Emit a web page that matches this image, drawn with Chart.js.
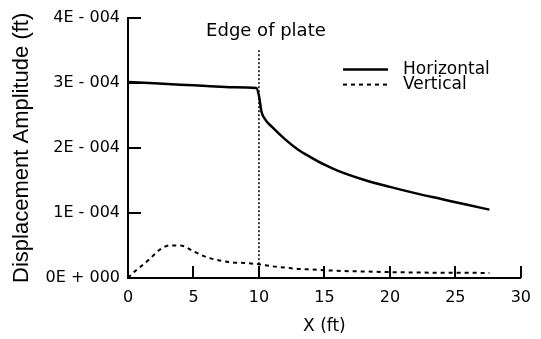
<!DOCTYPE html>
<html>
<head>
<meta charset="utf-8">
<script src="https://cdn.jsdelivr.net/npm/chart.js@4/dist/chart.umd.min.js"></script>
<style>
  html, body { margin: 0; padding: 0; background: #fff; }
  #wrap { width: 541px; height: 339px; }
</style>
</head>
<body>
<div id="wrap"><canvas id="c" width="541" height="339"></canvas></div>
<script>
// Horizontal displacement amplitude (ft) along X (ft)
const horizX = [0, 2, 4, 6, 8, 9.8, 10.0, 10.2, 10.5, 11, 12, 13, 14, 15, 16, 18, 20, 22, 24, 26, 27.6];
const horizY = [3.01e-4, 2.99e-4, 2.97e-4, 2.95e-4, 2.93e-4, 2.92e-4, 2.80e-4, 2.55e-4, 2.43e-4, 2.32e-4,
                2.13e-4, 1.97e-4, 1.85e-4, 1.74e-4, 1.65e-4, 1.51e-4, 1.40e-4, 1.30e-4, 1.21e-4, 1.12e-4, 1.05e-4];

// Vertical displacement amplitude (ft) along X (ft)
const vertX = [0, 0.5, 1, 1.7, 2.4, 3.2, 4, 5, 6, 7, 8, 9, 10, 11, 12, 13, 14, 15, 16, 18, 20, 22, 24, 26, 27.6];
const vertY = [0.0, 0.10e-4, 0.18e-4, 0.30e-4, 0.43e-4, 0.50e-4, 0.50e-4, 0.41e-4, 0.32e-4, 0.27e-4, 0.24e-4,
               0.23e-4, 0.21e-4, 0.18e-4, 0.16e-4, 0.14e-4, 0.13e-4, 0.12e-4, 0.11e-4, 0.10e-4, 0.09e-4,
               0.085e-4, 0.08e-4, 0.08e-4, 0.075e-4];

const xTickLabels = ['0', '5', '10', '15', '20', '25', '30'];
const yTickLabels = ['0E + 000', '1E - 004', '2E - 004', '3E - 004', '4E - 004'];

const seriesNames = ['Horizontal', 'Vertical'];
const edgeX = 10;
const edgeLabel = 'Edge of plate';

const FONT = "'DejaVu Sans', sans-serif";
const TITLE_FONT = "'Liberation Sans', Arial, sans-serif";

const toPoints = (xs, ys) => xs.map((x, i) => ({ x: x, y: ys[i] }));

// Short tick marks pointing into the plot
const inwardTicks = {
  id: 'inwardTicks',
  afterDraw(chart) {
    const { ctx, scales: { x, y } } = chart;
    ctx.save();
    ctx.strokeStyle = '#000';
    ctx.lineWidth = 2;
    ctx.beginPath();
    x.ticks.forEach(t => {
      if (t.value === 0) return;
      const px = Math.round(x.getPixelForValue(t.value));
      ctx.moveTo(px, y.bottom);
      ctx.lineTo(px, y.bottom - 12);
    });
    y.ticks.forEach(t => {
      if (t.value === 0) return;
      const py = Math.round(y.getPixelForValue(t.value));
      ctx.moveTo(x.left, py);
      ctx.lineTo(x.left + 13, py);
    });
    ctx.stroke();
    ctx.restore();
  }
};

// Dotted marker at the plate edge with its caption
const edgeMarker = {
  id: 'edgeMarker',
  afterDatasetsDraw(chart) {
    const { ctx, scales: { x, y } } = chart;
    const px = x.getPixelForValue(edgeX);
    ctx.save();
    ctx.strokeStyle = '#000';
    ctx.lineWidth = 1.5;
    ctx.setLineDash([2, 2]);
    ctx.beginPath();
    ctx.moveTo(px, y.getPixelForValue(3.5e-4));
    ctx.lineTo(px, y.bottom);
    ctx.stroke();
    ctx.setLineDash([]);
    ctx.fillStyle = '#000';
    ctx.font = '18px ' + FONT;
    ctx.textAlign = 'center';
    ctx.textBaseline = 'middle';
    ctx.fillText(edgeLabel, px + 7, chart.chartArea.top + 14);
    ctx.restore();
  }
};

// Legend drawn inside the plot area
const innerLegend = {
  id: 'innerLegend',
  afterDraw(chart) {
    const { ctx, chartArea } = chart;
    const x0 = chartArea.left + 215;
    const rows = [chartArea.top + 52, chartArea.top + 67];
    ctx.save();
    chart.data.datasets.forEach((ds, i) => {
      const yy = rows[i];
      ctx.strokeStyle = ds.borderColor;
      ctx.lineWidth = ds.borderWidth;
      ctx.setLineDash(ds.borderDash || []);
      ctx.beginPath();
      ctx.moveTo(x0, yy);
      ctx.lineTo(x0 + 45, yy);
      ctx.stroke();
      ctx.setLineDash([]);
      ctx.fillStyle = '#000';
      ctx.font = '17px ' + FONT;
      ctx.textAlign = 'left';
      ctx.textBaseline = 'middle';
      ctx.fillText(ds.label, x0 + 60, yy);
    });
    ctx.restore();
  }
};

new Chart(document.getElementById('c'), {
  type: 'line',
  data: {
    datasets: [
      {
        label: seriesNames[0],
        data: toPoints(horizX, horizY),
        borderColor: '#000',
        borderWidth: 2.5,
        pointRadius: 0,
        cubicInterpolationMode: 'monotone',
        fill: false
      },
      {
        label: seriesNames[1],
        data: toPoints(vertX, vertY),
        borderColor: '#000',
        borderWidth: 2,
        borderDash: [4, 4],
        pointRadius: 0,
        cubicInterpolationMode: 'monotone',
        fill: false
      }
    ]
  },
  options: {
    responsive: false,
    animation: false,
    devicePixelRatio: 1,
    layout: { padding: { left: 0, right: 20, top: 14, bottom: 0 } },
    plugins: { legend: { display: false }, tooltip: { enabled: false } },
    scales: {
      x: {
        type: 'linear',
        min: 0,
        max: 30,
        afterFit(s) { s.height = 61; },
        ticks: {
          stepSize: 5,
          color: '#000',
          padding: 10,
          maxRotation: 0,
          font: { family: FONT, size: 16 },
          callback: (v, i) => xTickLabels[i]
        },
        grid: { display: false, drawTicks: false },
        border: { display: true, color: '#000', width: 2 },
        title: {
          display: true,
          text: 'X (ft)',
          color: '#000',
          font: { family: FONT, size: 17 },
          padding: { top: 0, bottom: 2 }
        }
      },
      y: {
        type: 'linear',
        min: 0,
        max: 4e-4,
        afterFit(s) { s.width = 128; },
        ticks: {
          stepSize: 1e-4,
          color: '#000',
          padding: 8,
          font: { family: FONT, size: 16 },
          callback: (v, i) => yTickLabels[i]
        },
        grid: { display: false, drawTicks: false },
        border: { display: true, color: '#000', width: 2 },
        title: {
          display: true,
          text: 'Displacement Amplitude (ft)',
          color: '#000',
          font: { family: TITLE_FONT, size: 22 },
          padding: { top: 9, bottom: 0 }
        }
      }
    }
  },
  plugins: [inwardTicks, edgeMarker, innerLegend]
});
</script>
</body>
</html>
